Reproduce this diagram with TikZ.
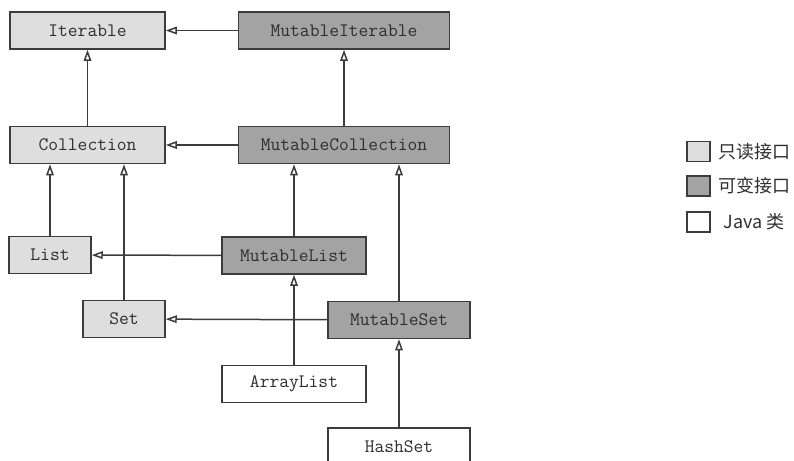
\documentclass[tikz,border=0pt]{standalone}
\usepackage{fontspec}
\newfontfamily\cjk{Noto Sans CJK SC}
\usetikzlibrary{arrows.meta,positioning}
\definecolor{rofill}{HTML}{DEDEDE}
\definecolor{mufill}{HTML}{A3A3A3}
\definecolor{edge}{HTML}{3C3C3C}
\definecolor{ink}{HTML}{2E2E2E}

\begin{document}
\begin{tikzpicture}[x=1pt,y=-1pt,node distance=76pt and 72pt,every node/.style={font=\fontsize{19}{21}\selectfont\ttfamily,text=ink,inner sep=0pt},box/.style={draw=edge,line width=1.5pt,minimum height=37pt},ro/.style={box,fill=rofill},mu/.style={box,fill=mufill},cls/.style={box,fill=white},inh/.style={-{Triangle[open,length=11pt,width=7.5pt,fill=white]},line width=1.5pt,draw=edge},key/.style={draw=edge,line width=1.5pt,minimum width=23pt,minimum height=20pt},legend/.style={font=\cjk\fontsize{18}{20}\selectfont}]
\useasboundingbox (0,0) rectangle (794,460);
\clip (0,0) rectangle (794,460);
\node[ro,minimum width=155pt] (iter) at (87.5,30.5) {Iterable};
\node[mu,minimum width=211pt,right=of iter] (miter) {MutableIterable};
\node[ro,minimum width=155pt,below=of iter] (coll) {Collection};
\node[mu,minimum width=211pt,right=of coll] (mcoll) {MutableCollection};
\node[ro,minimum width=82pt] (list) at (50,255) {List};
\node[ro,minimum width=82pt] (set) at (124,319) {Set};
\node[mu,minimum width=144pt] (mlist) at (294,255.5) {MutableList};
\node[mu,minimum width=142pt] (mset) at (399,320) {MutableSet};
\node[cls,minimum width=144pt,below=90pt of mlist] (alist) {ArrayList};
\node[cls,minimum width=142pt,below=88pt of mset] (hset) {HashSet};
\draw[inh] (miter) -- (iter);
\draw[inh] (coll) -- (iter);
\draw[inh] (mcoll) -- (miter);
\draw[inh] (mcoll) -- (coll);
\draw[inh] (list) -- (list |- coll.south);
\draw[inh] (set) -- (set |- coll.south);
\draw[inh] (mlist) -- (mlist |- mcoll.south);
\draw[inh] (mset) -- (mset |- mcoll.south);
\draw[inh] (mlist) -- (list);
\draw[inh] (mset) -- (set);
\draw[inh] (alist) -- (mlist);
\draw[inh] (hset) -- (mset);
% legend
\node[key,fill=rofill] (kro) at (698.5,151.5) {};
\node[key,fill=mufill] (kmu) at (698.5,186) {};
\node[key,fill=white] (kja) at (698.5,222) {};
\node[legend,right=8pt of kro] (tro) {只读接口};
\node[legend,right=8pt of kmu] (tmu) {可变接口};
\node[legend,right=13pt of kja] (tja) {Java 类};
\end{tikzpicture}
\end{document}
